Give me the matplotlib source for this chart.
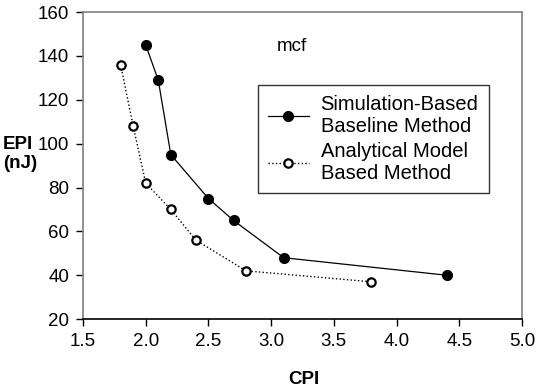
import matplotlib
matplotlib.use('Agg')
import matplotlib.pyplot as plt

plt.rcParams['font.family'] = ['Liberation Sans', 'DejaVu Sans']

# data
sim_cpi = [2.0, 2.1, 2.2, 2.5, 2.7, 3.1, 4.4]
sim_epi = [145, 129, 95, 75, 65, 48, 40]
ana_cpi = [1.8, 1.9, 2.0, 2.2, 2.4, 2.8, 3.8]
ana_epi = [136, 108, 82, 70, 56, 42, 37]
x_ticks = [1.5, 2.0, 2.5, 3.0, 3.5, 4.0, 4.5, 5.0]
y_ticks = [20, 40, 60, 80, 100, 120, 140, 160]

fig = plt.figure(figsize=(5.37, 3.92), dpi=100)
ax = fig.add_axes([0.1546, 0.186, 0.8174, 0.783])

ax.plot(sim_cpi, sim_epi, '-', color='black', lw=0.9, marker='o', ms=7,
        mfc='black', mec='black', label='Simulation-Based\nBaseline Method')
ax.plot(ana_cpi, ana_epi, ':', color='black', lw=1.0, marker='o', ms=6,
        mfc='white', mec='black', mew=1.6, label='Analytical Model\nBased Method')

ax.set_xlim(1.5, 5.0)
ax.set_ylim(20, 160)
ax.set_xticks(x_ticks)
ax.set_yticks(y_ticks)
ax.set_xticklabels(['%.1f' % v for v in x_ticks])
ax.tick_params(direction='out', length=5, width=1, labelsize=13.5, colors='black', pad=5)

for s in ['top', 'right', 'left']:
    ax.spines[s].set_color('#808080')
    ax.spines[s].set_linewidth(1.2)
ax.spines['bottom'].set_color('black')
ax.spines['bottom'].set_linewidth(1.2)

ax.text(0.442, 0.889, 'mcf', transform=ax.transAxes, fontsize=13.5, va='center')

leg = ax.legend(loc='upper left', bbox_to_anchor=(0.399, 0.762), fontsize=14.5,
                frameon=True, fancybox=False, edgecolor='black', handlelength=2.0,
                handletextpad=0.6, borderpad=0.5, labelspacing=0.3, borderaxespad=0)
leg.get_frame().set_linewidth(1.0)

fig.text(0.565, 0.033, 'CPI', fontsize=13.5, fontweight='bold', ha='center', va='center')
fig.text(0.005, 0.607, 'EPI\n(nJ)', fontsize=13.5, fontweight='bold', ha='left', va='center',
         linespacing=1.15)

fig.savefig('out.png', dpi=100)
